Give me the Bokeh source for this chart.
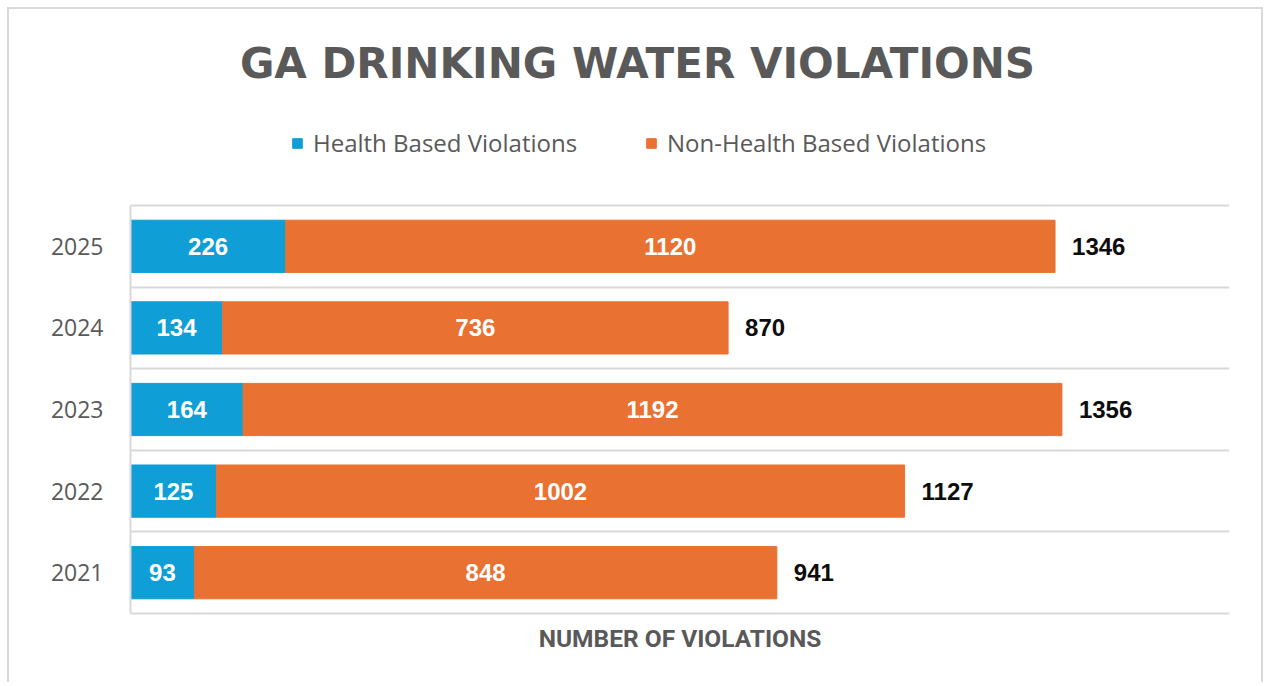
from bokeh.plotting import figure
from bokeh.models import (ColumnDataSource, Range1d, FixedTicker, LabelSet, Label,
                          Legend, LegendItem)
from bokeh.core.properties import value
from bokeh.embed import file_html
from bokeh.resources import INLINE

# ---- data ----
years = ["2021", "2022", "2023", "2024", "2025"]
health = [93, 125, 164, 134, 226]
non_health = [848, 1002, 1192, 736, 1120]
series_names = ["Health Based Violations", "Non-Health Based Violations"]
title_text = "GA DRINKING WATER VIOLATIONS"
x_label = "NUMBER OF VIOLATIONS"

BLUE = "#0F9ED5"
ORANGE = "#E97132"
GRAY_TXT = "#595959"
GRID = "#d9d9d9"

totals = [h + n for h, n in zip(health, non_health)]
ypos = [i + 0.5 for i in range(len(years))]

src = ColumnDataSource(dict(
    y=ypos,
    year=years,
    health=health,
    non=non_health,
    total=totals,
    h_mid=[h / 2 for h in health],
    n_mid=[h + n / 2 for h, n in zip(health, non_health)],
    h_txt=[str(v) for v in health],
    n_txt=[str(v) for v in non_health],
    t_txt=[str(v) for v in totals],
))

# ---- layout (pixels) ----
W, H = 1256, 675
FRAME_BOTTOM = 604           # canvas px of the category axis bottom
BAND = 81.6                  # px per category band
y_end = FRAME_BOTTOM / BAND  # frame extends to canvas top (room for title/legend)

p = figure(
    width=W, height=H,
    x_range=Range1d(0, 1600), y_range=Range1d(0, y_end),
    output_backend="svg", toolbar_location=None,
    min_border_left=121, min_border_right=36,
    min_border_top=0, min_border_bottom=H - FRAME_BOTTOM,
    styles={"margin-left": "7px", "margin-top": "7px",
            "border-left": f"2px solid {GRID}",
            "border-top": f"2px solid {GRID}",
            "border-right": f"2px solid {GRID}"},
)
p.outline_line_color = None
p.background_fill_color = "white"
p.border_fill_color = "white"

rs = p.hbar_stack(["health", "non"], y="y", height=0.64,
                  color=[BLUE, ORANGE], source=src)

# title (as a label so it can sit at the very top)
p.add_layout(Label(
    x=507, y=FRAME_BOTTOM - 54, x_units="screen", y_units="screen",
    text=title_text, text_align="center", text_baseline="alphabetic",
    text_font="DejaVu Sans", text_font_size="42px", text_font_style="bold",
    text_color=GRAY_TXT,
))

# legends
def make_legend(label, r, loc):
    return Legend(
        items=[LegendItem(label=label, renderers=[r])],
        location=loc, orientation="horizontal",
        label_text_font="Open Sans", label_text_font_size="24px",
        label_text_color=GRAY_TXT,
        glyph_width=12, glyph_height=12, label_standoff=10,
        padding=0, margin=0, border_line_color=None,
        background_fill_alpha=0,
    )

p.add_layout(make_legend(series_names[0], rs[0], (161, 454)))
p.add_layout(make_legend(series_names[1], rs[1], (515, 454)))

# y axis
p.yaxis.ticker = FixedTicker(ticks=ypos)
p.yaxis.bounds = (0, len(years))
p.yaxis.major_label_overrides = {y: yr for y, yr in zip(ypos, years)}
p.yaxis.major_label_text_font = "Open Sans"
p.yaxis.major_label_text_font_size = "23px"
p.yaxis.major_label_text_color = GRAY_TXT
p.yaxis.major_tick_line_color = None
p.yaxis.minor_tick_line_color = None
p.yaxis.major_tick_out = 0
p.yaxis.axis_line_color = GRID
p.yaxis.axis_line_width = 2
p.yaxis.major_label_standoff = 27

# x axis
p.xaxis.ticker = FixedTicker(ticks=[])
p.xaxis.axis_line_color = GRID
p.xaxis.axis_line_width = 2
p.xaxis.major_tick_line_color = None
p.xaxis.minor_tick_line_color = None
p.xaxis.axis_label = x_label
p.xaxis.axis_label_text_font = "Roboto"
p.xaxis.axis_label_text_font_size = "24.5px"
p.xaxis.axis_label_text_font_style = "bold"
p.xaxis.axis_label_text_color = GRAY_TXT
p.xaxis.axis_label_standoff = 10

# grid: lines on the category boundaries
p.xgrid.visible = False
p.ygrid.ticker = FixedTicker(ticks=list(range(len(years) + 1)))
p.ygrid.grid_line_color = GRID
p.ygrid.grid_line_width = 2

# data labels
common = dict(y="y", source=src, text_baseline="middle",
              text_font=value("Liberation Sans"), text_font_style="bold",
              text_font_size="24px")
p.add_layout(LabelSet(x="h_mid", text="h_txt", text_align="center",
                      text_color="white", **common))
p.add_layout(LabelSet(x="n_mid", text="n_txt", text_align="center",
                      text_color="white", **common))
p.add_layout(LabelSet(x="total", text="t_txt", text_align="left", x_offset=17,
                      text_color="#0d0d0d", **common))

open("out.html", "w").write(file_html(p, INLINE))
